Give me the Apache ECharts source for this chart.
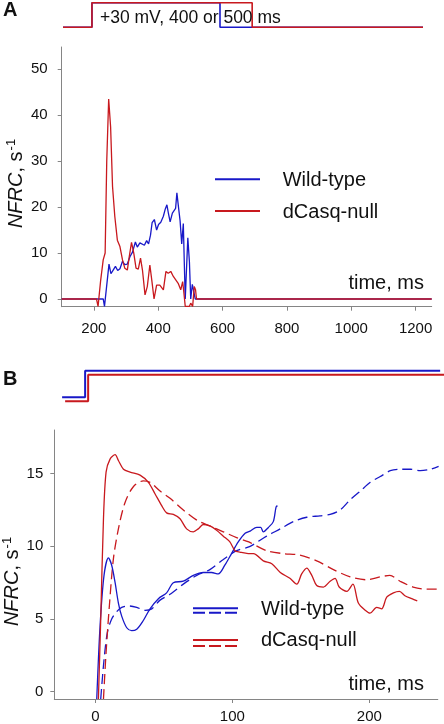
<!DOCTYPE html>
<html><head><meta charset="utf-8">
<script src="https://cdn.jsdelivr.net/npm/echarts@6/dist/echarts.min.js"></script>
<style>html,body{margin:0;padding:0;background:#fff}#c{width:444px;height:724px}</style>
</head><body><div id="c"></div>
<script>
// ---------- Panel A data (time ms, NFRC s^-1) ----------
const aWildType = [[100,0],[229,0],[233,-1.6],[237,-1.6],[247,7.6],[253,5.5],[260,6.3],[267,7.1],[274,6.2],[281,6.6],[289,8.2],[296,7.5],[304,7.6],[312,9.2],[320,10.2],[329,12.4],[335,11.3],[343,12.2],[349,12.6],[357,11.7],[364,12.7],[370,12],[376,13.9],[381,16.6],[388,17.3],[395,15],[401,16.2],[408,16.7],[416,18],[422,19.6],[427,20.5],[432,18.5],[437,16.8],[444,18.7],[450,18.3],[454,19.7],[458,23.1],[463,20],[468,17],[473,12],[478,16.4],[481,8],[484,0],[488,0],[492,13.3],[497,8],[501,0],[506,3.2],[511,3],[515,0],[1250,0]];
const aNull = [[100,0],[208,0],[213,-1.6],[218,-1.6],[221,4],[229,8.5],[235,10],[240,30],[246,43.5],[252,37.5],[258,24.5],[265,18],[273,12.8],[281,11.4],[289,8.5],[296,6.7],[304,6.3],[310,9.2],[317,12.3],[324,10],[331,6.7],[338,6.5],[345,8.9],[351,6.3],[359,0.9],[366,2.7],[374,7.4],[380,4.1],[387,0],[395,3],[405,3],[416,2],[424,6],[431,5.6],[439,6],[447,4.9],[455,4.1],[462,3.4],[470,2],[476,3.8],[480,1.2],[484,-1.6],[497,-1.6],[501,-0.9],[507,-1.6],[512,2.7],[516,2],[519,0],[1250,0]];
// voltage protocol A (0 = holding, 1 = +30 mV)
const aStepWT = [[104,0],[194,0],[194,1],[592,1],[592,0],[1223,0]];
const aStepNull = [[104,0],[194,0],[194,1],[692,1],[692,0],[1223,0]];

// ---------- Panel B data ----------
const bWTSolid = [[1,-0.5],[3.4,4.5],[6.3,8.0],[9.5,9.2],[11.9,8.7],[14.4,7.5],[16.8,6.1],[19.2,5.2],[22.9,4.4],[26.5,4.2],[30.2,4.3],[35,4.9],[39.9,5.7],[46,6.4],[52,6.8],[56.9,7.5],[64.2,7.6],[71.5,8.0],[78.8,8.2],[84.8,8.2],[89.7,8.1],[94.5,8.7],[99.4,9.5],[104.3,10.3],[109.3,10.9],[113,11.05],[117.8,11.3],[120.7,11.3],[122.6,11.0],[126.3,11.3],[129.9,11.7],[131.9,12.7],[132.9,12.8]];
const bWTDashed = [[3.9,-0.5],[6.3,2.2],[8.8,4.1],[11.9,5.0],[15.5,5.5],[19.2,5.8],[24.1,5.9],[30.2,5.8],[36.2,5.6],[41.1,5.7],[47.2,6.3],[54.5,6.7],[64.2,7.4],[74,8.0],[83.6,8.4],[93.4,9.1],[103.1,9.7],[113,10.0],[125,10.7],[135,11.2],[144.5,11.7],[154.3,12.0],[164,12.1],[171.4,12.2],[178.7,12.5],[186,13.2],[193.4,13.8],[200.7,14.4],[208,14.8],[215.3,15.2],[222.6,15.3],[230,15.3],[237.2,15.2],[244.5,15.3],[250.6,15.5]];
const bNullSolid = [[2.2,-0.5],[3.9,5],[5.9,11.9],[7.8,15.1],[10.7,16.0],[14.4,16.3],[16.8,15.9],[20.5,15.3],[25.3,15.1],[32.6,14.9],[38.7,14.4],[43.6,13.6],[48.4,12.8],[52,12.3],[56.9,12.2],[61.8,11.9],[66.6,11.2],[71.5,11.0],[75.1,11.2],[78.8,11.5],[83.6,11.4],[88.5,11.1],[93.4,10.7],[98.2,10.3],[101.9,9.7],[105.5,9.6],[111.6,9.5],[115.4,9.5],[122.6,9.0],[128.8,8.8],[135,8.2],[142,7.8],[147,7.4],[150.6,8.1],[154.3,8.5],[158,8.0],[161.6,7.3],[166.5,7.2],[171.4,7.6],[175,7.8],[178,7.2],[183.6,6.9],[188,7.4],[192,6.1],[197,5.6],[200.5,5.4],[205.4,5.8],[209,5.7],[212.7,6.5],[217.6,6.8],[222,6.9],[226,6.6],[231,6.4],[235,6.25]];
const bNullDashed = [[5.9,-0.5],[7.8,2.7],[10.2,5.9],[13.1,9.1],[16.8,11.2],[21.6,13.0],[27.7,14.1],[35,14.5],[39.9,14.4],[47.2,13.8],[54.5,13.3],[64.2,12.5],[74,11.8],[83.6,11.4],[93.4,11.0],[103.1,10.6],[112,10.3],[125,9.7],[137,9.5],[149,9.4],[161.6,9.0],[173.8,8.4],[186,7.9],[198,7.7],[207.9,7.9],[215,8.0],[222.4,7.6],[232,7.2],[241.9,7.05],[250.4,7.05]];
const bStepWT = [[-24.3,0],[-7.5,0],[-7.5,1],[251.6,1]];
const bStepNull = [[-22.1,-0.15],[-5.3,-0.15],[-5.3,0.85],[254.4,0.85]];

// ---------- tick labels ----------
const aXTicks = [200,400,600,800,1000,1200];
const aYTicks = [0,10,20,30,40,50];
const bXTicks = [0,100,200];
const bYTicks = [0,5,10,15];
const legendNames = ['Wild-type','dCasq-null'];

const BLUE = '#1818c8', RED = '#c8191e', AX = '#858585', FONT = '"Liberation Sans", Arial, sans-serif';

function valAxis(grid, min, max, ticks, margin, show) {
  return {
    type: 'value', gridIndex: grid, min: min, max: max, show: show !== false,
    splitLine: {show: false},
    axisLine: {show: true, onZero: false, lineStyle: {color: AX, width: 1}},
    axisTick: {show: true, length: 4, inside: false, customValues: ticks, lineStyle: {color: AX}},
    axisLabel: {show: true, customValues: ticks, margin: margin, color: '#111', fontSize: 15, fontFamily: FONT,
      formatter: function (v) { return String(v); }}
  };
}
function hidden(grid, min, max) {
  return {type: 'value', gridIndex: grid, min: min, max: max, show: false, splitLine: {show: false}};
}
function line(x, y, data, color, w, dash, smooth) {
  return {type: 'line', xAxisIndex: x, yAxisIndex: y, data: data, showSymbol: false, symbol: 'none',
    smooth: smooth || false, lineStyle: {color: color, width: w, type: dash || 'solid'}, animation: false, silent: true};
}
function title(x, y) {
  return {type: 'text', x: x, y: y, rotation: Math.PI / 2,
    style: {text: '{i|NFRC}{n|, s}{p|-1}', align: 'center', verticalAlign: 'middle', textAlign: 'center', textVerticalAlign: 'middle',
      rich: {
        i: {fontSize: 20, fontStyle: 'italic', fontFamily: FONT, fill: '#111', color: '#111', lineHeight: 24},
        n: {fontSize: 20, fontFamily: FONT, fill: '#111', color: '#111', lineHeight: 24},
        p: {fontSize: 13, fontFamily: FONT, fill: '#111', color: '#111', verticalAlign: 'top', lineHeight: 24, padding: [0,0,0,1]}
      }}};
}
function txt(x, y, s, size, align, extra) {
  return Object.assign({type: 'text', x: x, y: y, z: 100,
    style: {text: s, font: (extra || '') + ' ' + size + 'px ' + FONT, fill: '#111', align: align || 'left', verticalAlign: 'middle', textAlign: align || 'left', textVerticalAlign: 'middle'}});
}
function seg(x1, y, x2, color, dash) {
  return {type: 'line', shape: {x1: x1, y1: y, x2: x2, y2: y}, style: {stroke: color, lineWidth: 2, lineDash: dash || null}};
}

const chart = echarts.init(document.getElementById('c'), null, {renderer: 'canvas'});
chart.setOption({
  animation: false,
  backgroundColor: '#fff',
  grid: [
    {left: 61.7, right: 12.3, top: 2.7, bottom: 696.7},
    {left: 61.7, right: 12.3, top: 47, bottom: 417.3},
    {left: 54.3, right: 0, top: 370.7, bottom: 321.4},
    {left: 54.3, right: 6.2, top: 430, bottom: 24}
  ],
  xAxis: [
    hidden(0, 100, 1250),
    valAxis(1, 100, 1250, aXTicks, 15),
    hidden(2, -30, 254.4),
    valAxis(3, -30, 250, bXTicks, 10)
  ],
  yAxis: [
    hidden(0, 0, 1),
    valAxis(1, -1.68, 54.85, aYTicks, 14),
    hidden(2, -0.2, 1),
    valAxis(3, -0.5, 18, bYTicks, 11)
  ],
  series: [
    Object.assign(line(0, 0, aStepWT, BLUE, 1.6), {clip: false}),
    Object.assign(line(0, 0, aStepNull, RED, 1.6), {clip: false}),
    line(1, 1, aWildType, BLUE, 1.3),
    line(1, 1, aNull, RED, 1.3),
    Object.assign(line(2, 2, bStepWT, BLUE, 2), {clip: false}),
    Object.assign(line(2, 2, bStepNull, RED, 2), {clip: false}),
    line(3, 3, bWTDashed, BLUE, 1.3, [10, 5], 0.3),
    line(3, 3, bNullDashed, RED, 1.3, [10, 5], 0.3),
    line(3, 3, bWTSolid, BLUE, 1.3, 'solid', 0.3),
    line(3, 3, bNullSolid, RED, 1.3, 'solid', 0.3)
  ],
  graphic: [
    txt(3, 10, 'A', 20, 'left', 'bold'),
    txt(3, 379, 'B', 20, 'left', 'bold'),
    txt(100, 18, '+30 mV, 400 or 500 ms', 17.5, 'left'),
    title(16.5, 183.5),
    title(12.5, 581.5),
    seg(215, 179.3, 260, BLUE),
    seg(215, 211, 260, RED),
    txt(282.7, 180.5, legendNames[0], 20, 'left'),
    txt(282.7, 212, legendNames[1], 20, 'left'),
    txt(424, 283.5, 'time, ms', 20, 'right'),
    seg(193, 608.3, 238, BLUE),
    seg(193, 612.7, 238, BLUE, [12, 4]),
    seg(193, 640, 238, RED),
    seg(193, 646, 238, RED, [12, 4]),
    txt(261, 609.7, legendNames[0], 20, 'left'),
    txt(261, 640.5, legendNames[1], 20, 'left'),
    txt(424, 684, 'time, ms', 20, 'right')
  ]
});
</script></body></html>
